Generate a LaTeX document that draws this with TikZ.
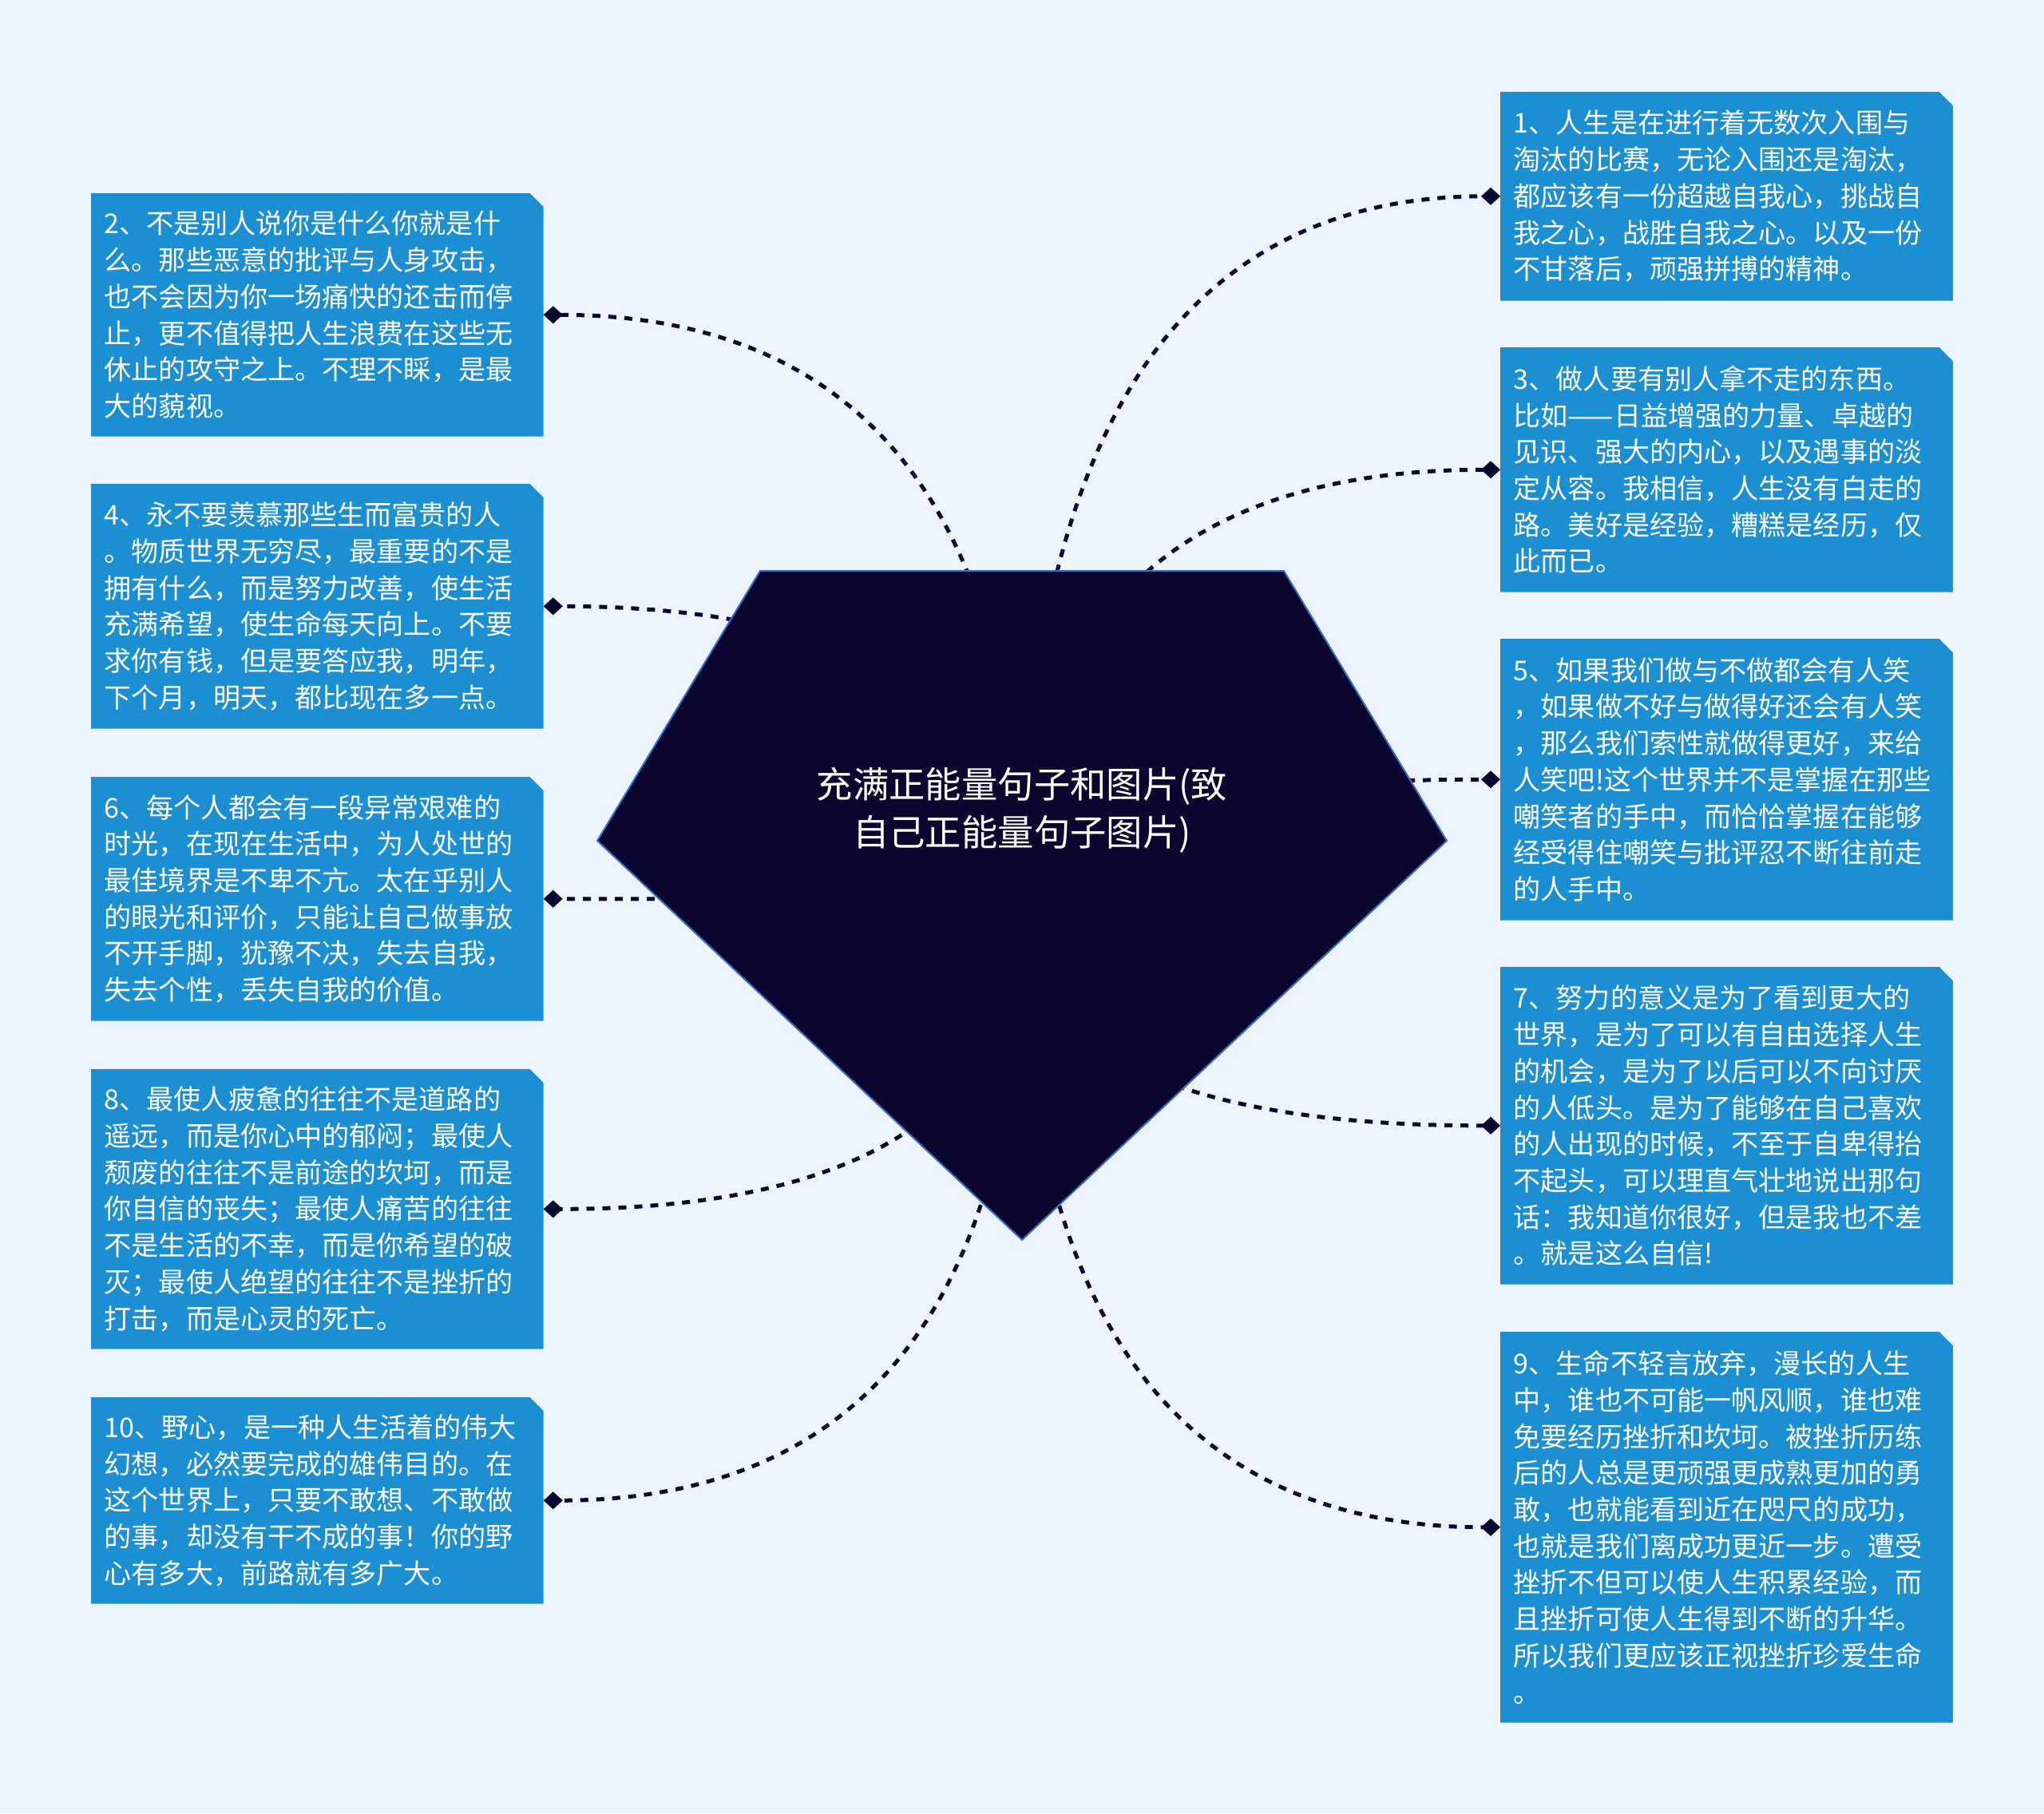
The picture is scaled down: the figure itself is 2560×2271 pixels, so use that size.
\documentclass[tikz,border=0pt]{standalone}
\usepackage{fontspec}
\setmainfont{Noto Sans CJK SC}
\usetikzlibrary{arrows.meta,calc,backgrounds}
\definecolor{pagebg}{RGB}{238,244,254}
\definecolor{cardblue}{RGB}{28,143,210}
\definecolor{navy}{RGB}{10,6,46}
\definecolor{rimblue}{RGB}{58,110,200}

\begin{document}
\begin{tikzpicture}[x=0.01cm, y=-0.01cm]
    \tikzset{
        card/.style={
            anchor=north west, text=white,
            minimum width=5.65cm, text width=5.33cm,
            inner xsep=0.16cm, inner ysep=0pt, align=left,
            font=\fontsize{9.7pt}{13pt}\selectfont
        },
        link/.style={
            draw=navy, line width=0.05cm,
            dash pattern=on 0.1cm off 0.1cm,
            -{Diamond[length=0.24cm, width=0.22cm]}
        },
    }
    \useasboundingbox (0,0) rectangle (2560,2271);

    % ==== Right column ====
    \node[card, minimum height=2.60cm] (b1) at (1879,115)
        {1、人生是在进行着无数次入围与\\淘汰的比赛，无论入围还是淘汰，\\都应该有一份超越自我心，挑战自\\我之心，战胜自我之心。以及一份\\不甘落后，顽强拼搏的精神。};
    \node[card, minimum height=3.05cm] (b3) at (1879,435)
        {3、做人要有别人拿不走的东西。\\比如——日益增强的力量、卓越的\\见识、强大的内心，以及遇事的淡\\定从容。我相信，人生没有白走的\\路。美好是经验，糟糕是经历，仅\\此而已。};
    \node[card, minimum height=3.51cm] (b5) at (1879,800)
        {5、如果我们做与不做都会有人笑\\，如果做不好与做得好还会有人笑\\，那么我们索性就做得更好，来给\\人笑吧!这个世界并不是掌握在那些\\嘲笑者的手中，而恰恰掌握在能够\\经受得住嘲笑与批评忍不断往前走\\的人手中。};
    \node[card, minimum height=3.96cm] (b7) at (1879,1211)
        {7、努力的意义是为了看到更大的\\世界，是为了可以有自由选择人生\\的机会，是为了以后可以不向讨厌\\的人低头。是为了能够在自己喜欢\\的人出现的时候，不至于自卑得抬\\不起头，可以理直气壮地说出那句\\话：我知道你很好，但是我也不差\\。就是这么自信!};
    \node[card, minimum height=4.88cm] (b9) at (1879,1668)
        {9、生命不轻言放弃，漫长的人生\\中，谁也不可能一帆风顺，谁也难\\免要经历挫折和坎坷。被挫折历练\\后的人总是更顽强更成熟更加的勇\\敢，也就能看到近在咫尺的成功，\\也就是我们离成功更近一步。遭受\\挫折不但可以使人生积累经验，而\\且挫折可使人生得到不断的升华。\\所以我们更应该正视挫折珍爱生命\\。};

    % ==== Left column ====
    \node[card, minimum height=3.03cm] (b2) at (114,242)
        {2、不是别人说你是什么你就是什\\么。那些恶意的批评与人身攻击，\\也不会因为你一场痛快的还击而停\\止，更不值得把人生浪费在这些无\\休止的攻守之上。不理不睬，是最\\大的藐视。};
    \node[card, minimum height=3.05cm] (b4) at (114,606)
        {4、永不要羡慕那些生而富贵的人\\。物质世界无穷尽，最重要的不是\\拥有什么，而是努力改善，使生活\\充满希望，使生命每天向上。不要\\求你有钱，但是要答应我，明年，\\下个月，明天，都比现在多一点。};
    \node[card, minimum height=3.04cm] (b6) at (114,973)
        {6、每个人都会有一段异常艰难的\\时光，在现在生活中，为人处世的\\最佳境界是不卑不亢。太在乎别人\\的眼光和评价，只能让自己做事放\\不开手脚，犹豫不决，失去自我，\\失去个性，丢失自我的价值。};
    \node[card, minimum height=3.49cm] (b8) at (114,1339)
        {8、最使人疲惫的往往不是道路的\\遥远，而是你心中的郁闷；最使人\\颓废的往往不是前途的坎坷，而是\\你自信的丧失；最使人痛苦的往往\\不是生活的不幸，而是你希望的破\\灭；最使人绝望的往往不是挫折的\\打击，而是心灵的死亡。};
    \node[card, minimum height=2.57cm] (b10) at (114,1750)
        {10、野心，是一种人生活着的伟大\\幻想，必然要完成的雄伟目的。在\\这个世界上，只要不敢想、不敢做\\的事，却没有干不成的事！你的野\\心有多大，前路就有多广大。};

    % card fills with the cut corner
    \begin{scope}[on background layer]
        \fill[pagebg] (0,0) rectangle (2560,2271);
        \foreach \b in {b1,b2,b3,b4,b5,b6,b7,b8,b9,b10}
            \fill[cardblue] (\b.south west) -- (\b.north west)
                -- ([xshift=-0.17cm]\b.north east)
                -- ([yshift=-0.17cm]\b.north east)
                -- (\b.south east) -- cycle;
    \end{scope}

    % ==== Links from the hub ====
    \coordinate (hub) at (1280,1134);
    \foreach \b in {b1,b3,b5,b7,b9}
        \draw[link] (hub) .. controls ($(hub)!0.667!(hub |- \b.west)$)
            and ($(\b.west)!0.667!(hub |- \b.west)$) .. (\b.west);
    \foreach \b in {b2,b4,b6,b8,b10}
        \draw[link] (hub) .. controls ($(hub)!0.667!(hub |- \b.east)$)
            and ($(\b.east)!0.667!(hub |- \b.east)$) .. (\b.east);

    % ==== Central topic ====
    \filldraw[fill=navy, draw=rimblue, line width=0.02cm]
        (952,715) -- (1608,715) -- (1812,1053) -- (1280,1553) -- (748,1053) -- cycle;
    \node[text=white, align=center, font=\fontsize{12.9pt}{17pt}\selectfont] (topic) at (1280,1015)
        {充满正能量句子和图片(致\\自己正能量句子图片)};
\end{tikzpicture}
\end{document}
